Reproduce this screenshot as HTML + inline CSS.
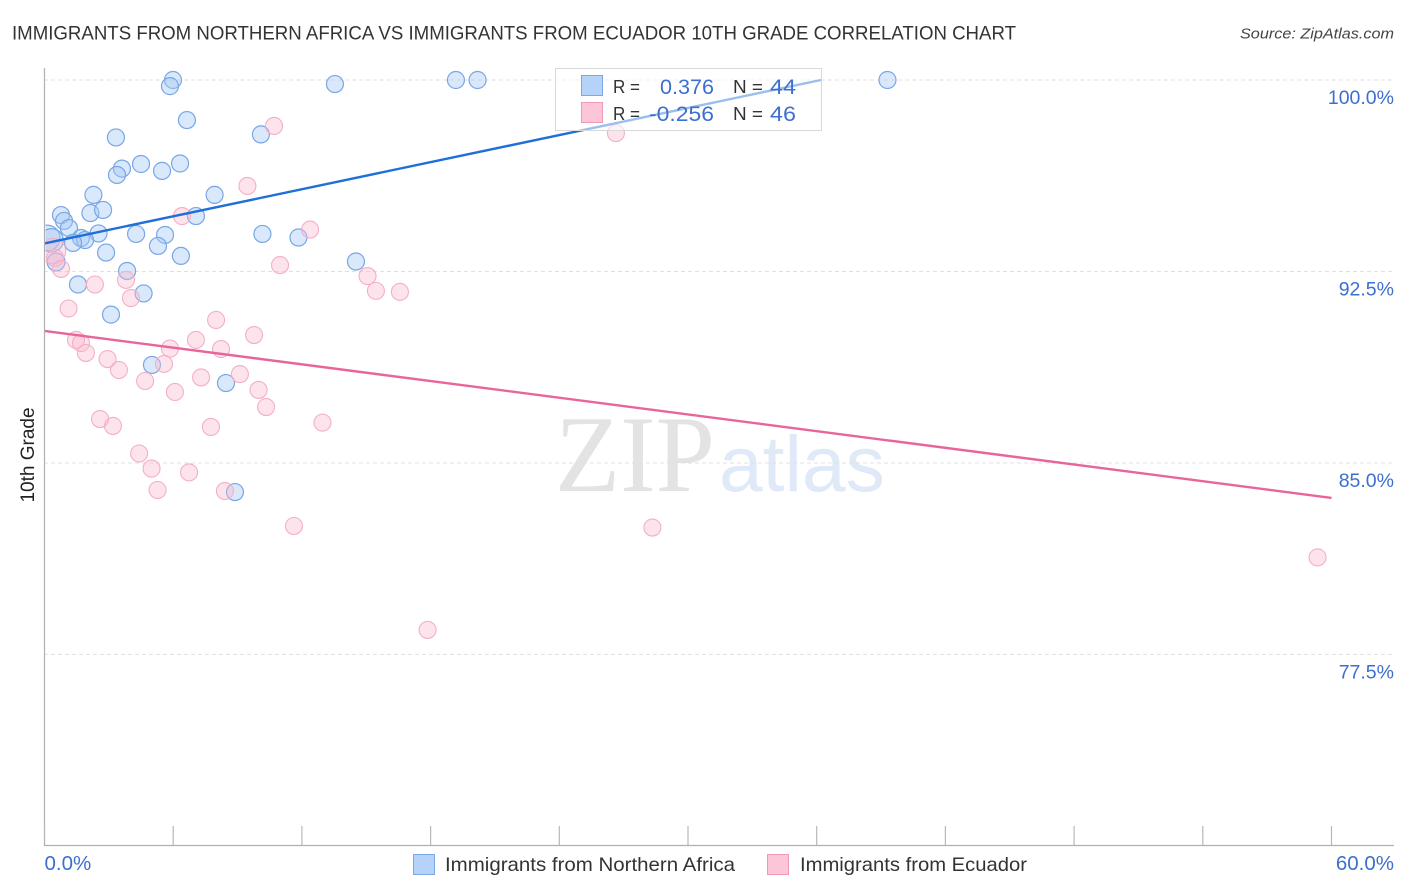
<!DOCTYPE html>
<html>
<head>
<meta charset="utf-8">
<title>10th Grade Correlation Chart</title>
<style>
html,body{margin:0;padding:0;background:#fff;}
svg{display:block;}
text{font-family:"Liberation Sans",sans-serif;}
</style>
</head>
<body>
<svg id="chart" width="1406" height="892" viewBox="0 0 1406 892">
  <defs><clipPath id="plot-clip"><rect x="45.5" y="60" width="1349" height="786"/></clipPath></defs>
  <text x="12" y="39.5" font-size="19.5" fill="#333" textLength="1004" lengthAdjust="spacingAndGlyphs">IMMIGRANTS FROM NORTHERN AFRICA VS IMMIGRANTS FROM ECUADOR 10TH GRADE CORRELATION CHART</text>
  <text x="1394" y="38.5" font-size="15" font-style="italic" fill="#444" text-anchor="end" textLength="154" lengthAdjust="spacingAndGlyphs">Source: ZipAtlas.com</text>
  <text x="555" y="491" font-size="109" fill="#e3e3e3" textLength="160" lengthAdjust="spacingAndGlyphs" style="font-family:'Liberation Serif',serif">ZIP</text>
  <text x="719" y="491" font-size="78.5" fill="#dfe9f8">atlas</text>
  <g id="grid"></g>
  <g id="trend-layer"></g>
  <g id="blue-layer" clip-path="url(#plot-clip)"></g>
  <g id="pink-layer" clip-path="url(#plot-clip)"></g>
  <g id="axes"></g>
  <text x="34" y="455" font-size="19" fill="#222" text-anchor="middle" transform="rotate(-90 34 455)">10th Grade</text>

  <g>
    <rect x="555.5" y="68.5" width="266" height="62" fill="#fff" fill-opacity="0.55" stroke="#d9d9d9"/>
    <rect x="581.5" y="75.5" width="21" height="20" fill="#b5d2f8" stroke="#7aa9e6"/>
    <rect x="581.5" y="102.5" width="21" height="20" fill="#fcc6d8" stroke="#f09ab8"/>
    <text x="613" y="93" font-size="18" fill="#333" textLength="27" lengthAdjust="spacingAndGlyphs">R =</text>
    <text x="613" y="120" font-size="18" fill="#333" textLength="27" lengthAdjust="spacingAndGlyphs">R =</text>
    <text x="660" y="94" font-size="21.5" fill="#3d6fd0" textLength="54" lengthAdjust="spacingAndGlyphs">0.376</text>
    <text x="649" y="121" font-size="21.5" fill="#3d6fd0" textLength="65" lengthAdjust="spacingAndGlyphs">-0.256</text>
    <text x="733" y="93" font-size="18" fill="#333" textLength="30" lengthAdjust="spacingAndGlyphs">N =</text>
    <text x="733" y="120" font-size="18" fill="#333" textLength="30" lengthAdjust="spacingAndGlyphs">N =</text>
    <text x="770" y="94" font-size="21.5" fill="#3d6fd0" textLength="26" lengthAdjust="spacingAndGlyphs">44</text>
    <text x="770" y="121" font-size="21.5" fill="#3d6fd0" textLength="26" lengthAdjust="spacingAndGlyphs">46</text>
  </g>

  <g>
    <rect x="413.5" y="854.5" width="21" height="20" fill="#b5d2f8" stroke="#7aa9e6"/>
    <text x="445" y="871" font-size="19.5" fill="#333" textLength="290" lengthAdjust="spacingAndGlyphs">Immigrants from Northern Africa</text>
  </g>
  <g>
    <rect x="767.5" y="854.5" width="21" height="20" fill="#fcc6d8" stroke="#f09ab8"/>
    <text x="800" y="871" font-size="19.5" fill="#333" textLength="227" lengthAdjust="spacingAndGlyphs">Immigrants from Ecuador</text>
  </g>
</svg>
<script>
const blueX = [5.99,5.85,6.64,3.33,10.09,3.61,3.38,4.50,5.48,6.32,2.28,2.14,2.73,7.93,7.06,0.77,0.91,1.14,2.52,4.27,5.62,10.16,11.84,1.70,1.89,1.33,5.29,2.87,6.36,14.52,3.85,1.56,4.62,3.10,5.01,8.46,8.88,13.54,19.18,20.19,39.30,0.12,0.33,0.54];
const blueY = [100,99.76,98.43,97.75,97.87,96.53,96.28,96.71,96.44,96.73,95.50,94.79,94.91,95.50,94.67,94.71,94.48,94.20,93.99,93.97,93.93,93.97,93.83,93.81,93.73,93.62,93.50,93.24,93.11,92.89,92.52,91.99,91.64,90.81,88.84,88.13,83.86,99.84,100,100,100,93.81,93.72,92.87];
const blueWeight = [1,1,1,1,1,1,1,1,1,1,1,1,1,1,1,1,1,1,1,1,1,1,1,1,1,1,1,1,1,1,1,1,1,1,1,1,1,1,1,1,1,2.3,1.9,1.1];
const pinkX = [10.70,26.64,9.46,6.41,12.38,10.98,15.06,15.45,16.57,0.40,0.49,0.77,2.35,3.80,4.03,1.12,8.00,9.77,1.47,1.70,1.93,5.85,7.06,8.23,2.94,3.47,4.69,5.57,6.08,7.30,9.11,9.98,10.33,2.59,3.19,7.76,12.96,4.41,4.99,5.27,6.74,8.41,11.63,28.34,59.35,17.86];
const pinkY = [98.20,97.92,95.85,94.67,94.14,92.75,92.32,91.74,91.70,93.30,93.03,92.60,91.99,92.17,91.46,91.05,90.60,90.01,89.82,89.70,89.31,89.48,89.82,89.46,89.07,88.64,88.21,88.88,87.78,88.35,88.48,87.86,87.19,86.72,86.45,86.41,86.58,85.37,84.78,83.94,84.63,83.90,82.53,82.47,81.30,78.46];
const pinkWeight = [1,1,1,1,1,1,1,1,1,2.2,1,1,1,1,1,1,1,1,1,1,1,1,1,1,1,1,1,1,1,1,1,1,1,1,1,1,1,1,1,1,1,1,1,1,1,1];
const blueTrendX = [0, 36.2];
const blueTrendY = [93.6, 100];
const pinkTrendX = [0, 60];
const pinkTrendY = [90.17, 83.63];
const yTicks = [100, 92.5, 85, 77.5];
const yTickLabels = ["100.0%", "92.5%", "85.0%", "77.5%"];
const xTicks = [0, 6, 12, 18, 24, 30, 36, 42, 48, 54, 60];
const xEndValues = [0, 60];
const xEndLabels = ["0.0%", "60.0%"];

const NS = 'http://www.w3.org/2000/svg';
const xPos = v => 44.5 + v * 21.45;
const yPos = v => 80 + (100 - v) * 25.53;
function make(tag, parent, attrs) {
  const el = document.createElementNS(NS, tag);
  for (const k in attrs) el.setAttribute(k, attrs[k]);
  parent.appendChild(el);
  return el;
}
const grid = document.getElementById('grid');
yTicks.forEach((t, i) => {
  const line = make('line', grid, {x1: 44, x2: 1394, y1: yPos(t), y2: yPos(t), stroke: '#e0e0e0', 'stroke-dasharray': '4 3'});
  
  
  const label = make('text', grid, {x: 1394, y: yPos(t) + 24, 'font-size': 19.5, fill: '#3d6fd0', 'text-anchor': 'end'});
  label.textContent = yTickLabels[i];
  
  
});
const axes = document.getElementById('axes');
const yAxis = make('line', axes, {x1: 44.5, x2: 44.5, y1: 68, y2: 846, stroke: '#b0b0b0', 'stroke-width': 1.2});


const xAxis = make('line', axes, {x1: 44, x2: 1394, y1: 845.5, y2: 845.5, stroke: '#b0b0b0', 'stroke-width': 1.2});


xTicks.forEach(t => {
  const tick = make('line', axes, {x1: xPos(t), x2: xPos(t), y1: 826, y2: 845, stroke: '#b8b8b8', 'stroke-width': 1.2});
  
  
});
xEndValues.forEach((t, i) => {
  const label = make('text', axes, {x: i === 0 ? xPos(t) : 1394, y: 870, 'font-size': 20.5, fill: '#3d6fd0', 'text-anchor': i === 0 ? 'start' : 'end'});
  label.textContent = xEndLabels[i];
  
  
});
const blueLayer = document.getElementById('blue-layer');
blueX.forEach((x, i) => {
  const c = make('circle', blueLayer, {cx: xPos(x), cy: yPos(blueY[i]), r: 8.5 * Math.sqrt(blueWeight[i]), fill: '#a5c8f5', 'fill-opacity': 0.42, stroke: '#78a6e6', 'stroke-width': 1.2});
  
  
});
const pinkLayer = document.getElementById('pink-layer');
pinkX.forEach((x, i) => {
  const c = make('circle', pinkLayer, {cx: xPos(x), cy: yPos(pinkY[i]), r: 8.5 * Math.sqrt(pinkWeight[i]), fill: '#f9b9ce', 'fill-opacity': 0.38, stroke: '#f3afc6', 'stroke-width': 1.1});
  
  
});
const trend = document.getElementById('trend-layer');
const blueLine = make('line', trend, {x1: xPos(blueTrendX[0]), y1: yPos(blueTrendY[0]), x2: xPos(blueTrendX[1]), y2: yPos(blueTrendY[1]), stroke: '#1f6fd8', 'stroke-width': 2.4});


const pinkLine = make('line', trend, {x1: xPos(pinkTrendX[0]), y1: yPos(pinkTrendY[0]), x2: xPos(pinkTrendX[1]), y2: yPos(pinkTrendY[1]), stroke: '#e8659a', 'stroke-width': 2.4});


const svg = document.getElementById('chart');
svg.insertBefore(trend, axes);
</script>
</body>
</html>
